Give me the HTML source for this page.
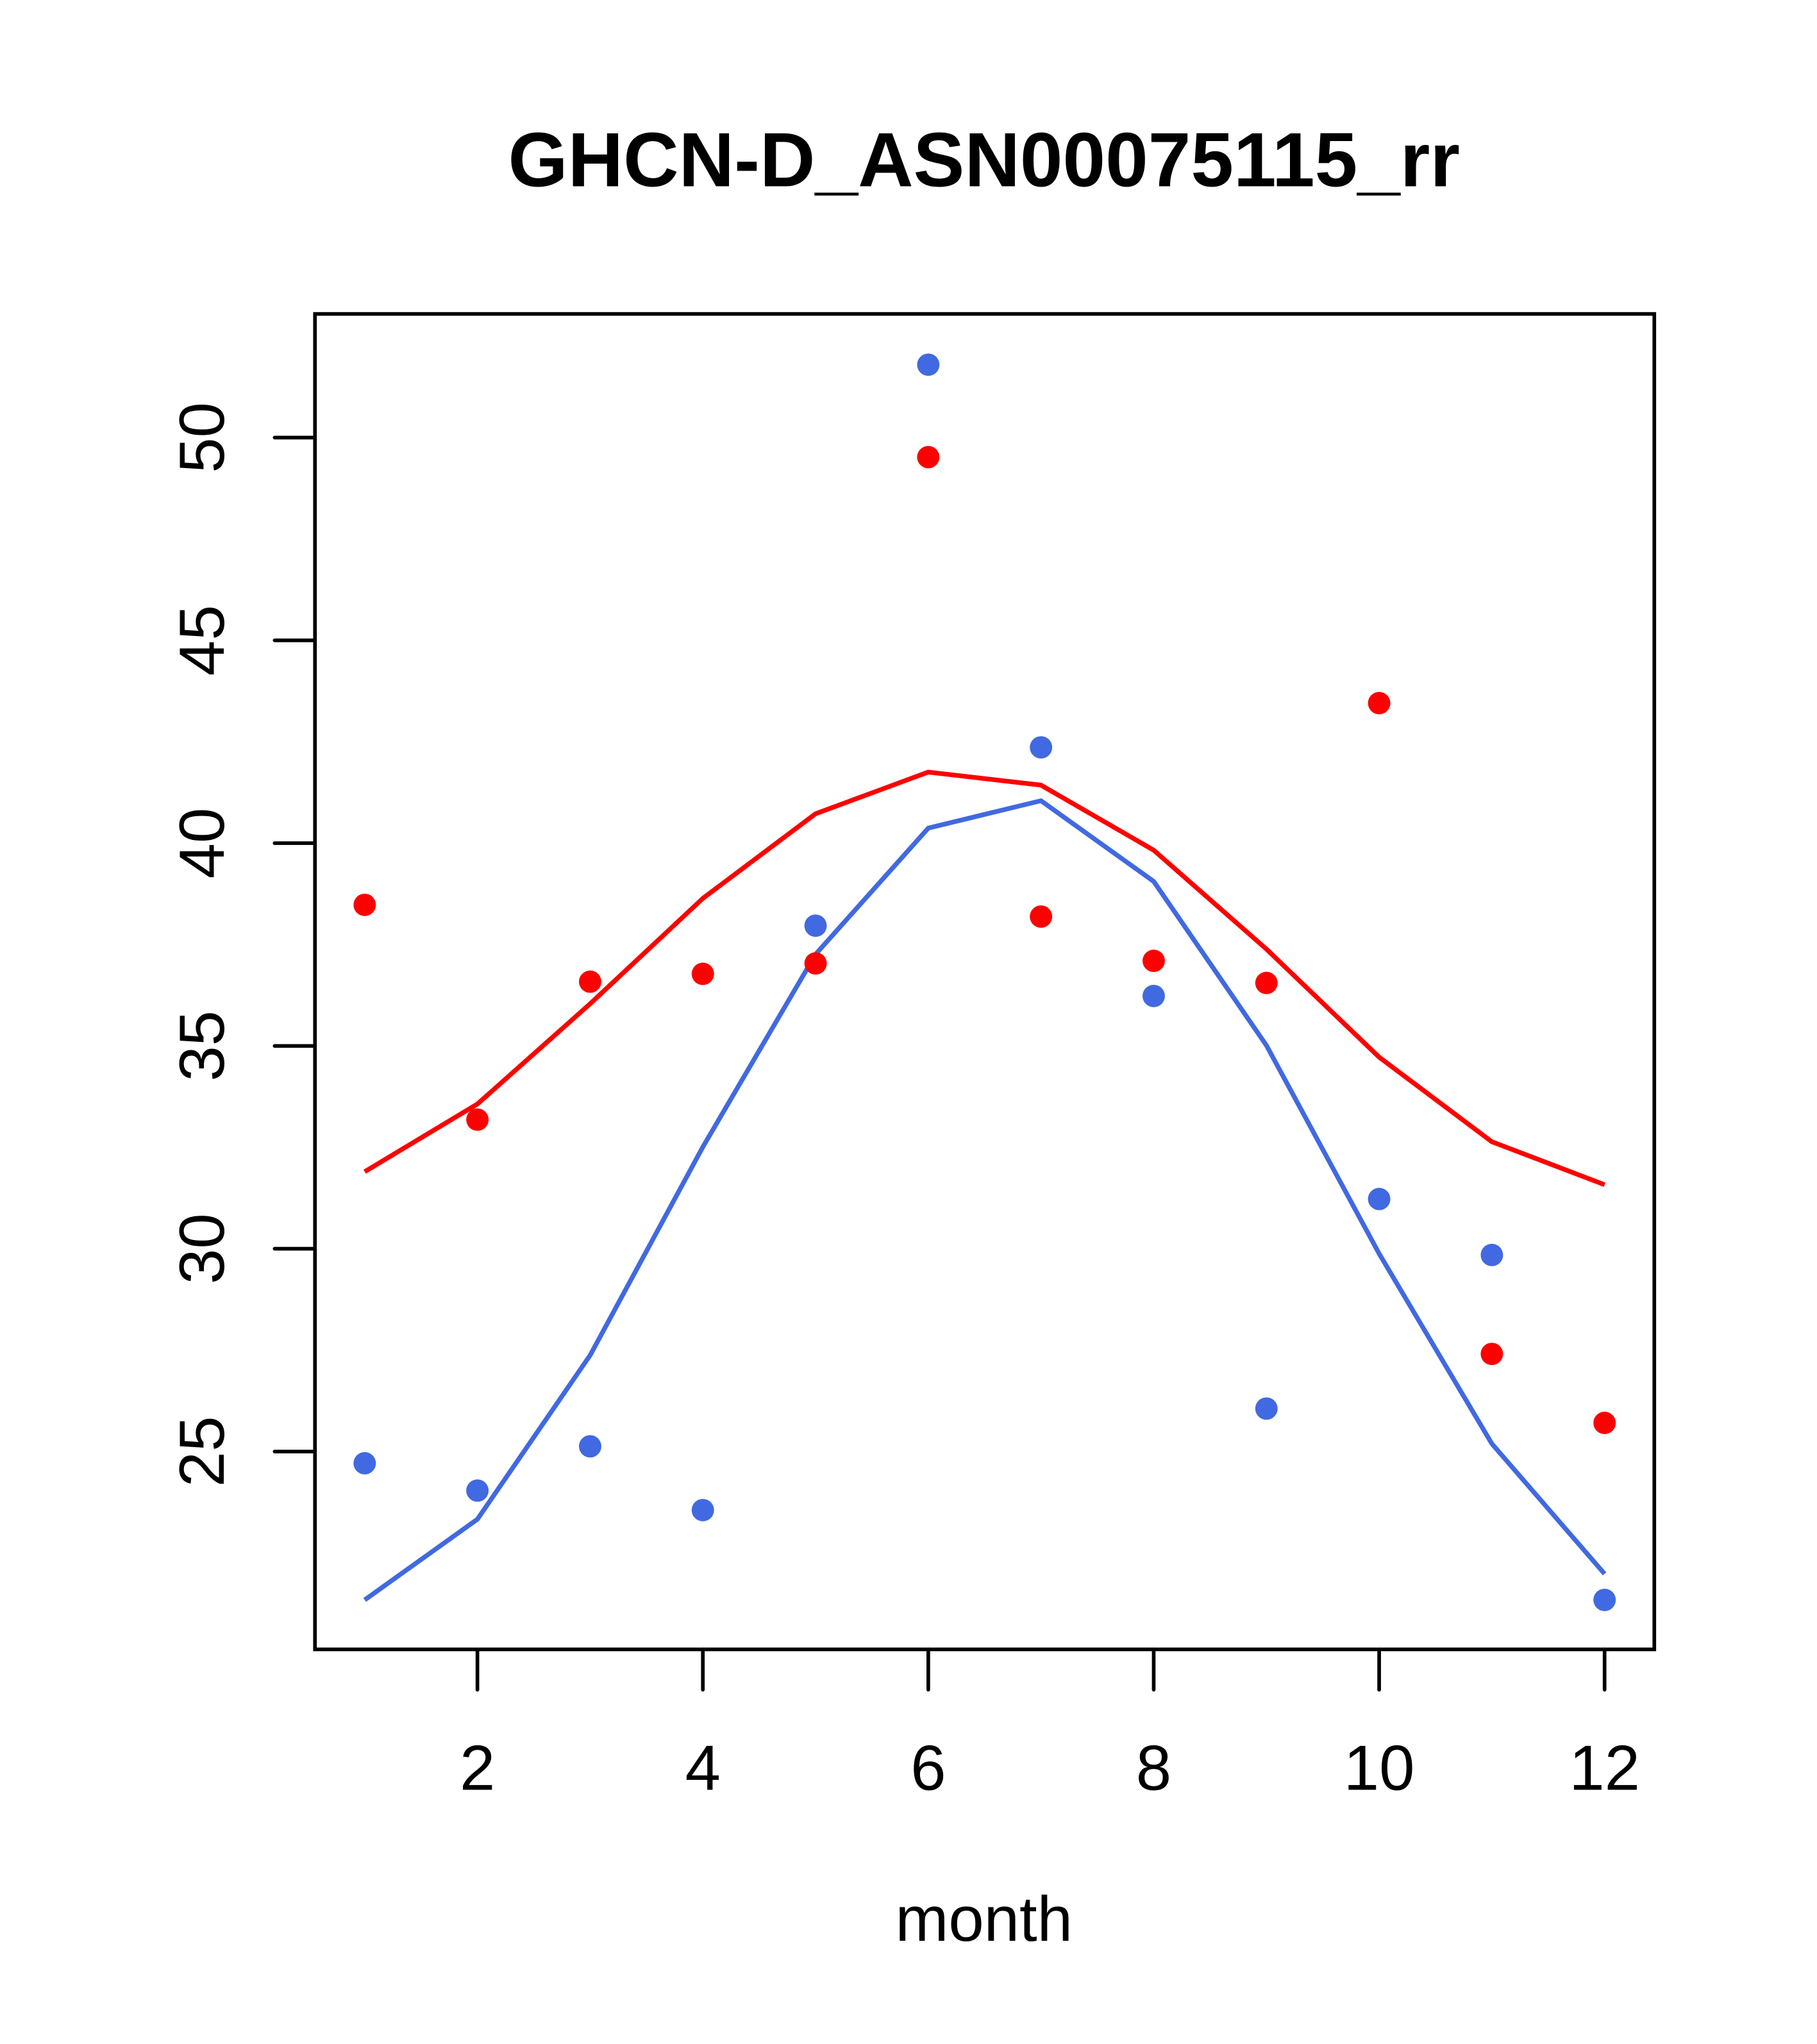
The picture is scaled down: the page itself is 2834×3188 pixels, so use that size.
<!DOCTYPE html>
<html><head><style>html,body{margin:0;padding:0;background:#fff}svg{display:block}</style></head>
<body>
<svg width="2834" height="3188" viewBox="0 0 1396 1570" xmlns="http://www.w3.org/2000/svg" font-family="Liberation Sans, Arial, sans-serif">
<rect width="1396" height="1570" fill="#fff"/>
<text x="756" y="143" font-size="59" font-weight="bold" text-anchor="middle">GHCN-D_ASN00075115_rr</text>
<rect x="242" y="241" width="1029" height="1026" fill="none" stroke="#000" stroke-width="2.8"/>
<g stroke="#000" stroke-width="2.8" stroke-linecap="round">
<line x1="366.8" y1="1267" x2="366.8" y2="1298"/>
<line x1="540" y1="1267" x2="540" y2="1298"/>
<line x1="713.2" y1="1267" x2="713.2" y2="1298"/>
<line x1="886.4" y1="1267" x2="886.4" y2="1298"/>
<line x1="1059.6" y1="1267" x2="1059.6" y2="1298"/>
<line x1="1232.8" y1="1267" x2="1232.8" y2="1298"/>
<line x1="242" y1="336" x2="211" y2="336"/>
<line x1="242" y1="491.8" x2="211" y2="491.8"/>
<line x1="242" y1="647.6" x2="211" y2="647.6"/>
<line x1="242" y1="803.4" x2="211" y2="803.4"/>
<line x1="242" y1="959.2" x2="211" y2="959.2"/>
<line x1="242" y1="1115" x2="211" y2="1115"/>
</g>
<g font-size="49" text-anchor="middle">
<text x="366.8" y="1375">2</text>
<text x="540" y="1375">4</text>
<text x="713.2" y="1375">6</text>
<text x="886.4" y="1375">8</text>
<text x="1059.6" y="1375">10</text>
<text x="1232.8" y="1375">12</text>
<text x="756" y="1491">month</text>
<text transform="translate(172,336) rotate(-90)">50</text>
<text transform="translate(172,491.8) rotate(-90)">45</text>
<text transform="translate(172,647.6) rotate(-90)">40</text>
<text transform="translate(172,803.4) rotate(-90)">35</text>
<text transform="translate(172,959.2) rotate(-90)">30</text>
<text transform="translate(172,1115) rotate(-90)">25</text>
</g>
<polyline fill="none" stroke="#ff0000" stroke-width="3.6" stroke-linejoin="round" points="280.2,900 366.8,848 453.4,771 540,690 626.6,625 713.2,593 799.8,603 886.4,653 973,729 1059.6,812 1146.2,877 1232.8,910"/>
<polyline fill="none" stroke="#4169e1" stroke-width="3.6" stroke-linejoin="round" points="280.2,1229 366.8,1167 453.4,1041 540,881 626.6,733 713.2,636 799.8,615 886.4,677 973,803 1059.6,963 1146.2,1109 1232.8,1209"/>
<g fill="#ff0000">
<circle cx="280.2" cy="695" r="8.6"/><circle cx="366.8" cy="860" r="8.6"/><circle cx="453.4" cy="754" r="8.6"/><circle cx="540" cy="748" r="8.6"/><circle cx="626.6" cy="740" r="8.6"/><circle cx="713.2" cy="351" r="8.6"/><circle cx="799.8" cy="704" r="8.6"/><circle cx="886.4" cy="738" r="8.6"/><circle cx="973" cy="755" r="8.6"/><circle cx="1059.6" cy="540" r="8.6"/><circle cx="1146.2" cy="1040" r="8.6"/><circle cx="1232.8" cy="1093" r="8.6"/>
</g>
<g fill="#4169e1">
<circle cx="280.2" cy="1124" r="8.6"/><circle cx="366.8" cy="1145" r="8.6"/><circle cx="453.4" cy="1111" r="8.6"/><circle cx="540" cy="1160" r="8.6"/><circle cx="626.6" cy="711" r="8.6"/><circle cx="713.2" cy="280" r="8.6"/><circle cx="799.8" cy="574" r="8.6"/><circle cx="886.4" cy="765" r="8.6"/><circle cx="973" cy="1082" r="8.6"/><circle cx="1059.6" cy="921" r="8.6"/><circle cx="1146.2" cy="964" r="8.6"/><circle cx="1232.8" cy="1229" r="8.6"/>
</g>
</svg>
</body></html>
